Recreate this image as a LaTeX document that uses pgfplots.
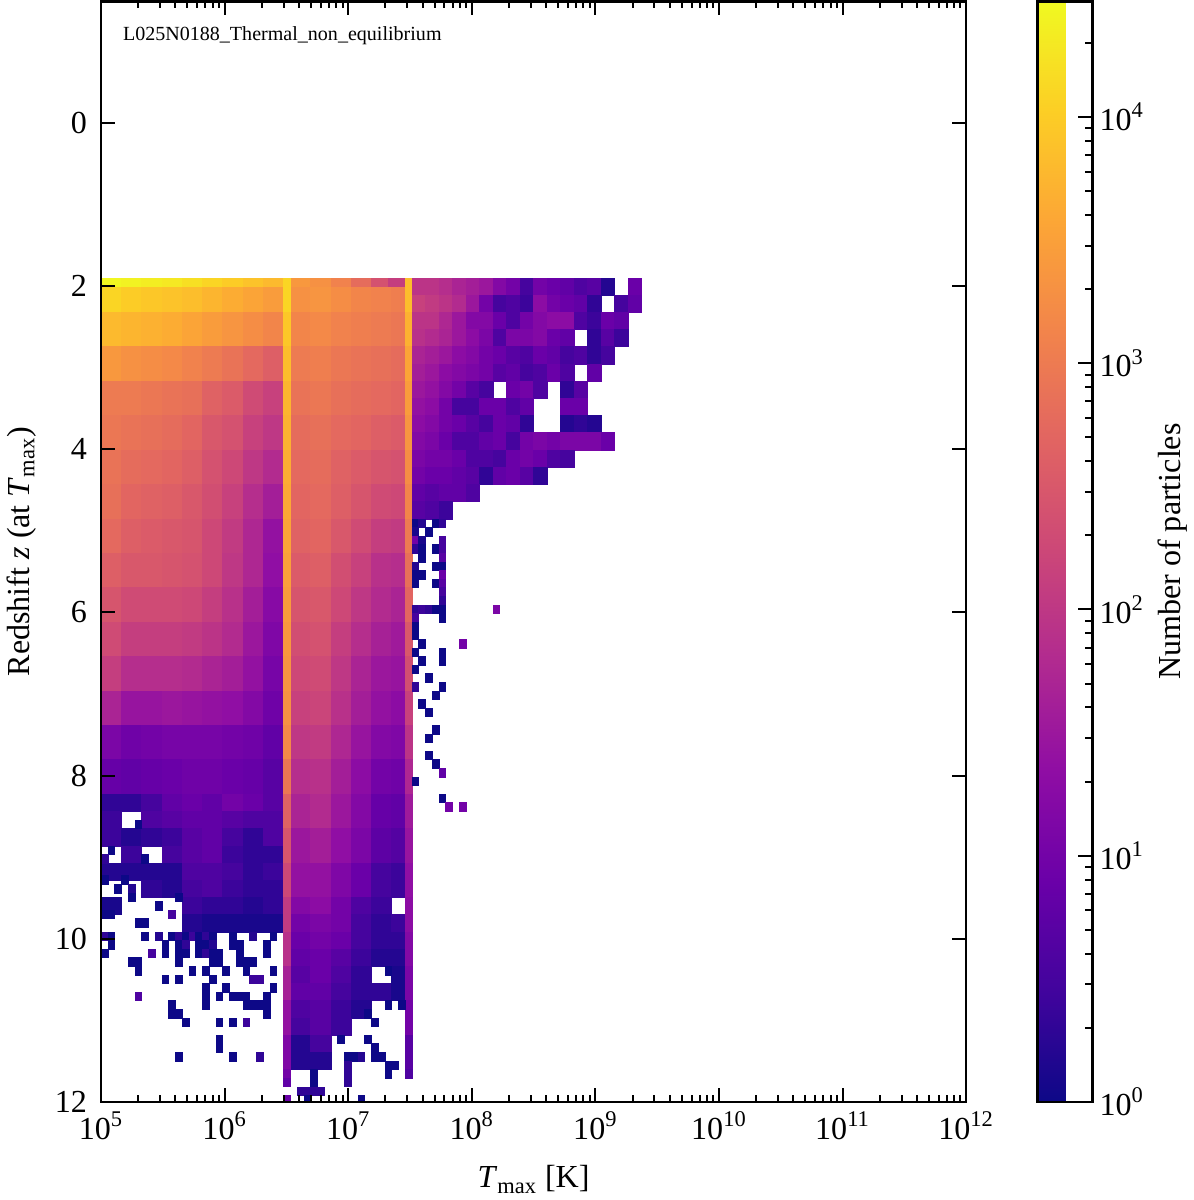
\documentclass[border=0pt]{standalone}
\usepackage{fontspec}
\setmainfont{Liberation Serif}
\usepackage{pgfplots}
\usepackage{pgfplotstable}
\pgfplotsset{compat=1.18}
\pgfplotsset{colormap={plasma}{rgb255=(13,8,135) rgb255=(65,4,157) rgb255=(106,0,168) rgb255=(143,13,164) rgb255=(177,42,144) rgb255=(204,71,120) rgb255=(225,100,98) rgb255=(242,132,75) rgb255=(252,166,54) rgb255=(252,206,37) rgb255=(240,249,33)}}
% cell marks: width x height of histogram bins (1 native bin = 3.371pt x 4.292pt)
\pgfdeclareplotmark{cA}{\pgfpathrectangle{\pgfqpoint{-5.057pt}{-8.585pt}}{\pgfqpoint{10.113pt}{17.17pt}}\pgfusepathqfillstroke}
\pgfdeclareplotmark{cAh}{\pgfpathrectangle{\pgfqpoint{-5.057pt}{-4.292pt}}{\pgfqpoint{10.113pt}{8.585pt}}\pgfusepathqfillstroke}
\pgfdeclareplotmark{cAs}{\pgfpathrectangle{\pgfqpoint{-5.057pt}{-2.146pt}}{\pgfqpoint{10.113pt}{4.292pt}}\pgfusepathqfillstroke}
\pgfdeclareplotmark{cB}{\pgfpathrectangle{\pgfqpoint{-3.371pt}{-8.585pt}}{\pgfqpoint{6.742pt}{17.17pt}}\pgfusepathqfillstroke}
\pgfdeclareplotmark{cN}{\pgfpathrectangle{\pgfqpoint{-1.686pt}{-8.585pt}}{\pgfqpoint{3.371pt}{17.17pt}}\pgfusepathqfillstroke}
\pgfdeclareplotmark{cC}{\pgfpathrectangle{\pgfqpoint{-3.371pt}{-4.292pt}}{\pgfqpoint{6.742pt}{8.585pt}}\pgfusepathqfillstroke}
\pgfdeclareplotmark{cS}{\pgfpathrectangle{\pgfqpoint{-1.686pt}{-2.146pt}}{\pgfqpoint{3.371pt}{4.292pt}}\pgfusepathqfillstroke}
\pgfplotsset{hist/.style={only marks, scatter, mark=#1, point meta=explicit,
  scatter/use mapped color={draw=mapped color, fill=mapped color}, mark options={line width=0.3pt}}}

% log10(number of particles); region T < 10^6.48 (3 bins wide x 4 bins high)
\pgfplotstableread{
z a0 a1 a2 a3 a4 a5 a6 a7 a8
2.111 4.1 4.0 3.95 3.9 3.85 3.75 3.65 3.55 3.45
2.533 3.8 3.75 3.7 3.65 3.55 3.45 3.35 3.25 3.15
2.955 3.4 3.3 3.25 3.2 3.1 3.0 2.9 2.75 2.6
3.377 3.0 3.0 2.95 2.9 2.85 2.65 2.55 2.3 2.15
3.799 2.95 2.9 2.85 2.8 2.7 2.5 2.4 2.15 2.0
4.220 2.9 2.8 2.75 2.7 2.6 2.4 2.25 2.0 1.8
4.642 2.85 2.7 2.65 2.6 2.5 2.35 2.15 1.85 1.6
5.064 2.75 2.6 2.55 2.5 2.45 2.25 2.05 1.75 1.4
5.486 2.6 2.5 2.5 2.45 2.4 2.25 2.0 1.75 1.35
5.908 2.45 2.3 2.3 2.3 2.25 2.1 1.9 1.6 1.25
6.330 2.3 2.1 2.1 2.1 2.05 1.95 1.8 1.5 1.15
6.752 2.1 1.85 1.85 1.85 1.8 1.7 1.6 1.4 1.05
7.174 1.7 1.45 1.45 1.5 1.45 1.4 1.35 1.2 0.95
7.596 1.1 0.95 1.0 1.05 1.05 1.05 1.0 0.95 0.8
8.017 0.85 0.8 0.85 0.9 0.95 0.95 0.9 0.85 0.7
}\tA
% first (lowest-z) row of bins, 3 bins wide x 1 bin high
\pgfplotstableread{
x y c
5.0820 1.953 4.45
5.2461 1.953 4.4
5.4102 1.953 4.35
5.5742 1.953 4.3
5.7383 1.953 4.2
5.9023 1.953 4.1
6.0664 1.953 4.0
6.2305 1.953 3.9
6.3945 1.953 3.8
6.6133 1.953 3.4
6.7773 1.953 3.3
6.9414 1.953 3.1
7.1055 1.953 2.8
7.2695 1.953 2.4
7.4063 1.953 2.1
}\tT
% same region, 3 bins wide x 2 bins high
\pgfplotstableread{
x y c
5.0820 8.334 0.3
5.2461 8.334 0.3
5.4102 8.334 0.5
5.5742 8.334 0.8
5.7383 8.334 0.9
5.9023 8.334 0.8
6.0664 8.334 1.0
6.2305 8.334 0.9
6.3945 8.334 0.7
5.0820 8.545 0.4
5.4102 8.545 0.6
5.5742 8.545 0.7
5.7383 8.545 0.8
5.9023 8.545 0.8
6.0664 8.545 0.7
6.2305 8.545 0.6
6.3945 8.545 0.6
5.0820 8.756 0.4
5.2461 8.756 0.2
5.4102 8.756 0.3
5.5742 8.756 0.4
5.7383 8.756 0.7
5.9023 8.756 0.8
6.0664 8.756 0.5
6.2305 8.756 0.3
6.3945 8.756 0.6
5.2461 8.967 0.4
5.5742 8.967 0.5
5.7383 8.967 0.7
5.9023 8.967 0.8
6.0664 8.967 0.4
6.2305 8.967 0.3
6.3945 8.967 0.3
5.0820 9.177 0.2
5.2461 9.177 0.2
5.4102 9.177 0.2
5.5742 9.177 0.2
5.7383 9.177 0.6
5.9023 9.177 0.6
6.0664 9.177 0.5
6.2305 9.177 0.3
6.3945 9.177 0.4
5.4102 9.388 0.3
5.5742 9.388 0.2
5.7383 9.388 0.5
5.9023 9.388 0.6
6.0664 9.388 0.4
6.2305 9.388 0.3
6.3945 9.388 0.3
5.0820 9.599 0.1
5.7383 9.599 0.4
5.9023 9.599 0.3
6.0664 9.599 0.3
6.2305 9.599 0.2
6.3945 9.599 0.3
5.7383 9.810 0.2
5.9023 9.810 0.1
6.0664 9.810 0.1
6.2305 9.810 0.1
6.3945 9.810 0.1
6.6133 9.599 1.2
6.7773 9.599 1.3
6.9414 9.599 1.0
7.1055 9.599 0.6
7.2695 9.599 0.4
6.6133 9.810 1.0
6.7773 9.810 1.1
6.9414 9.810 1.0
7.1055 9.810 0.5
7.2695 9.810 0.3
6.6133 10.021 0.9
6.7773 10.021 1.0
6.9414 10.021 0.9
7.1055 10.021 0.5
7.2695 10.021 0.3
6.6133 10.232 0.8
6.7773 10.232 0.9
6.9414 10.232 0.7
7.1055 10.232 0.4
7.2695 10.232 0.2
6.6133 10.443 0.7
6.7773 10.443 0.9
6.9414 10.443 0.6
7.1055 10.443 0.3
6.6133 10.654 0.8
6.7773 10.654 0.8
6.9414 10.654 0.5
7.1055 10.654 0.3
7.2695 10.654 0.3
6.6133 10.865 0.6
6.7773 10.865 0.7
6.9414 10.865 0.4
7.1055 10.865 0.2
6.6133 11.075 0.5
6.7773 11.075 0.7
6.9414 11.075 0.4
6.6133 11.286 0.2
6.7773 11.286 0.5
6.6133 11.497 0.2
6.7773 11.497 0.2
}\tAh
\pgfplotstableread{
x y c
7.4063 9.810 0.4
7.4063 10.021 0.3
7.4063 10.232 0.2
7.4063 10.443 0.1
7.4063 10.654 0.1
}\tBh
% region 10^6.53 < T < 10^7.46
\pgfplotstableread{
z b0 b1 b2 b3 b4 b5
2.111 3.3 3.35 3.25 3.15 3.1 3.05
2.533 3.15 3.2 3.1 3.05 3.0 2.95
2.955 3.0 3.05 2.95 2.9 2.85 2.8
3.377 2.9 2.95 2.85 2.8 2.75 2.7
3.799 2.8 2.85 2.75 2.7 2.6 2.55
4.220 2.75 2.8 2.65 2.55 2.45 2.4
4.642 2.7 2.75 2.6 2.45 2.3 2.25
5.064 2.65 2.7 2.5 2.3 2.1 2.05
5.486 2.55 2.6 2.35 2.15 1.9 1.85
5.908 2.45 2.5 2.25 2.0 1.8 1.7
6.330 2.35 2.4 2.1 1.85 1.65 1.55
6.752 2.25 2.3 2.0 1.7 1.5 1.45
7.174 2.15 2.2 1.9 1.6 1.4 1.3
7.596 2.0 2.05 1.75 1.45 1.2 1.15
8.017 1.85 1.9 1.6 1.3 1.0 0.95
8.439 1.7 1.8 1.5 1.2 0.85 0.8
8.861 1.5 1.6 1.35 1.1 0.75 0.65
9.283 1.4 1.4 1.15 0.9 0.5 0.4
}\tB
% the two single-bin columns at T = 10^6.5 and 10^7.5
\pgfplotstableread{
z n1 n2
2.111 4.1 3.85
2.533 3.95 3.7
2.955 3.85 3.55
3.377 3.75 3.45
3.799 3.7 3.35
4.220 3.65 3.25
4.642 3.6 3.15
5.064 3.55 3.0
5.486 3.5 2.85
5.908 3.45 2.7
6.330 3.4 2.5
6.752 3.35 2.35
7.174 3.3 2.15
7.596 3.2 1.95
8.017 2.95 1.75
8.439 2.65 1.55
8.861 2.45 1.45
9.283 2.25 1.35
9.705 2.05 1.3
10.127 1.9 1.2
10.548 1.65 1.1
10.970 1.4 1.0
11.392 1.15 0.7
}\tN
% region T > 10^7.52 (2 x 2 bins)
\pgfplotstableread{
x y c
7.5703 2.005 1.95
7.6797 2.005 1.95
7.7891 2.005 1.85
7.8984 2.005 1.7
8.0078 2.005 1.6
8.1172 2.005 1.5
8.2266 2.005 1.2
8.3359 2.005 1.0
8.4453 2.005 0.5
8.5547 2.005 1.0
8.6641 2.005 0.9
8.7734 2.005 0.8
8.8828 2.005 0.6
8.9922 2.005 0.7
9.1016 2.005 0.2
9.3203 2.005 0.9
7.5703 2.216 2.15
7.6797 2.216 2.05
7.7891 2.216 1.95
7.8984 2.216 1.8
8.0078 2.216 1.5
8.1172 2.216 1.0
8.2266 2.216 0.5
8.3359 2.216 0.6
8.4453 2.216 0.4
8.5547 2.216 1.3
8.6641 2.216 1.0
8.7734 2.216 0.9
8.8828 2.216 0.8
8.9922 2.216 0.3
9.2109 2.216 0.5
9.3203 2.216 0.8
7.5703 2.427 1.95
7.6797 2.427 1.95
7.7891 2.427 1.75
7.8984 2.427 1.5
8.0078 2.427 1.2
8.1172 2.427 1.2
8.2266 2.427 0.9
8.3359 2.427 0.6
8.4453 2.427 1.0
8.5547 2.427 1.2
8.6641 2.427 1.3
8.7734 2.427 1.3
8.8828 2.427 0.6
8.9922 2.427 0.4
9.1016 2.427 0.9
9.2109 2.427 0.8
7.5703 2.638 1.9
7.6797 2.638 1.8
7.7891 2.638 1.7
7.8984 2.638 1.5
8.0078 2.638 1.3
8.1172 2.638 1.1
8.2266 2.638 0.6
8.3359 2.638 1.1
8.4453 2.638 1.1
8.5547 2.638 1.2
8.6641 2.638 0.9
8.7734 2.638 0.8
8.9922 2.638 0.3
9.1016 2.638 0.7
9.2109 2.638 0.4
7.5703 2.849 1.7
7.6797 2.849 1.6
7.7891 2.849 1.5
7.8984 2.849 1.3
8.0078 2.849 1.2
8.1172 2.849 1.0
8.2266 2.849 0.9
8.3359 2.849 0.7
8.4453 2.849 0.6
8.5547 2.849 0.9
8.6641 2.849 0.8
8.7734 2.849 0.5
8.8828 2.849 0.6
8.9922 2.849 0.3
9.1016 2.849 0.5
7.5703 3.060 1.6
7.6797 3.060 1.5
7.7891 3.060 1.3
7.8984 3.060 1.2
8.0078 3.060 1.1
8.1172 3.060 1.0
8.2266 3.060 0.7
8.3359 3.060 0.8
8.4453 3.060 0.5
8.5547 3.060 0.6
8.6641 3.060 0.9
8.7734 3.060 0.6
8.9922 3.060 0.8
7.5703 3.271 1.5
7.6797 3.271 1.4
7.7891 3.271 1.2
7.8984 3.271 1.0
8.0078 3.271 0.7
8.1172 3.271 0.5
8.3359 3.271 0.9
8.4453 3.271 1.0
8.5547 3.271 0.6
8.7734 3.271 0.3
8.8828 3.271 0.7
7.5703 3.482 1.4
7.6797 3.482 1.3
7.7891 3.482 1.0
7.8984 3.482 0.5
8.0078 3.482 0.5
8.1172 3.482 0.9
8.2266 3.482 0.9
8.3359 3.482 0.6
8.4453 3.482 0.8
8.7734 3.482 0.9
8.8828 3.482 0.9
7.5703 3.693 1.3
7.6797 3.693 1.2
7.7891 3.693 1.0
7.8984 3.693 0.9
8.0078 3.693 0.7
8.1172 3.693 0.5
8.2266 3.693 0.9
8.3359 3.693 0.8
8.4453 3.693 0.3
8.7734 3.693 0.2
8.8828 3.693 0.3
8.9922 3.693 0.2
7.5703 3.904 1.2
7.6797 3.904 1.1
7.7891 3.904 0.9
7.8984 3.904 0.6
8.0078 3.904 0.6
8.1172 3.904 0.8
8.2266 3.904 0.9
8.3359 3.904 0.5
8.4453 3.904 1.0
8.5547 3.904 1.1
8.6641 3.904 1.0
8.7734 3.904 1.1
8.8828 3.904 1.1
8.9922 3.904 1.1
9.1016 3.904 0.9
7.5703 4.115 1.1
7.6797 4.115 1.0
7.7891 4.115 1.0
7.8984 4.115 0.9
8.0078 4.115 0.6
8.1172 4.115 0.6
8.2266 4.115 0.5
8.3359 4.115 0.9
8.4453 4.115 1.0
8.5547 4.115 0.9
8.6641 4.115 0.6
8.7734 4.115 0.5
7.5703 4.326 1.0
7.6797 4.326 0.9
7.7891 4.326 0.9
7.8984 4.326 0.8
8.0078 4.326 0.7
8.1172 4.326 0.3
8.2266 4.326 0.8
8.3359 4.326 0.9
8.4453 4.326 0.7
8.5547 4.326 0.3
7.5703 4.537 0.8
7.6797 4.537 0.7
7.7891 4.537 0.8
7.8984 4.537 0.8
8.0078 4.537 0.6
7.5703 4.748 0.7
7.6797 4.748 0.6
7.7891 4.748 0.4
}\tC
% single bins in the sparse parts
\pgfplotstableread{
x y c
7.5430 4.906 0
7.5977 4.906 0.2
7.7070 4.906 0
7.7617 4.906 0.3
7.5430 5.011 0.1
7.6523 5.011 0
7.5430 5.117 1.0
7.5977 5.117 0.1
7.7617 5.117 0.5
7.5430 5.222 0.3
7.5977 5.222 0
7.7070 5.222 0
7.7617 5.222 0.5
7.5977 5.328 0
7.7617 5.328 0.7
7.5430 5.433 0.2
7.7070 5.433 0
7.7617 5.433 0
7.5430 5.539 0
7.5977 5.539 0
7.7617 5.539 0.9
7.5430 5.644 0
7.7070 5.644 0
7.7617 5.644 0.7
7.7617 5.750 0.5
7.7617 5.855 0.3
7.5430 5.961 0.3
7.5977 5.961 0.4
7.6523 5.961 0.3
7.7070 5.961 0
7.7617 5.961 0
8.1992 5.961 1.1
7.5430 6.066 0.5
7.7617 6.066 0
7.5430 6.172 0
7.5430 6.277 0
7.5977 6.382 0
7.9258 6.382 1.0
7.5430 6.488 0
7.7617 6.488 0
7.5977 6.593 0
7.7617 6.593 0
7.5430 6.699 0
7.6523 6.804 0
7.5430 6.910 0.3
7.7617 6.910 0
7.7070 7.015 0
7.5977 7.120 0
7.6523 7.226 0
7.7070 7.437 0
7.6523 7.542 0
7.6523 7.753 0
7.7070 7.858 0
7.7617 7.964 0.8
7.5430 8.069 0
7.7617 8.280 0
7.8164 8.385 1.0
7.9258 8.385 1.0
5.3008 8.597 0
5.0820 8.914 0
5.0273 9.019 0.3
5.3555 9.019 0
5.0273 9.280 0
5.1367 9.386 0
5.1914 9.280 0
5.2461 9.386 0.2
5.2461 9.491 0
5.4648 9.596 0
5.6289 9.491 0
5.0273 9.702 0
5.0820 9.702 0
5.3008 9.807 0
5.3555 9.807 0
5.5742 9.702 0.5
5.0273 9.968 0.3
5.0820 9.968 0
5.3555 9.968 0
5.4648 9.968 0.2
5.5742 9.968 0
5.6289 9.968 0.3
5.6836 9.968 0
5.7383 9.968 0.4
5.7930 9.968 0
5.8477 9.968 0.3
5.9023 9.968 0
6.0664 9.968 0
6.2305 9.968 0.2
6.3945 9.968 0
5.0820 10.074 0
5.5195 10.074 0
5.6289 10.074 0
5.6836 10.074 0.3
5.7930 10.074 0
5.8477 10.074 0
5.9023 10.074 0.2
6.0664 10.074 0
6.1211 10.074 0
6.3398 10.074 0
5.0273 10.179 0
5.4102 10.179 0.5
5.5195 10.179 0
5.6289 10.179 0
5.6836 10.179 0
5.7930 10.179 0
5.8477 10.179 0.3
5.9023 10.179 0
5.9570 10.179 0
6.1211 10.179 0
6.3398 10.179 0
5.2461 10.285 0
5.3008 10.285 0
5.6289 10.285 0
5.9023 10.285 0
5.9570 10.285 0
6.1211 10.285 0
6.1758 10.285 0
6.2305 10.285 0
5.3008 10.390 0
5.7383 10.390 0
5.8477 10.390 0
6.0117 10.390 0
6.1758 10.390 0
6.3945 10.390 0
5.5195 10.496 0
5.6289 10.496 0
5.9023 10.496 0
6.2305 10.496 0.4
6.2852 10.496 0.4
5.8477 10.601 0
6.0117 10.601 0
6.3945 10.601 0
5.3008 10.706 0.6
5.8477 10.706 0
5.9570 10.706 0
6.0664 10.706 0
6.1211 10.706 0
6.1758 10.706 0
6.3398 10.706 0
5.5742 10.812 0
5.8477 10.812 0
6.1758 10.812 0
6.2305 10.812 0
6.2852 10.812 0
6.3398 10.812 0
5.5742 10.917 0
5.6289 10.917 0
6.3398 10.917 0
5.6836 11.023 0
5.9570 11.023 0
6.0664 11.023 0
6.1758 11.023 0.4
5.9570 11.234 0
5.9570 11.339 0
5.6289 11.445 0
6.0664 11.445 0
6.2852 11.445 0.3
7.3242 10.390 0
7.3242 10.812 0
7.4336 10.812 0
7.1602 10.917 0
7.2148 11.023 0
6.9414 11.234 0
7.1602 11.234 0
7.2148 11.339 0
6.9961 11.445 0
7.0508 11.445 0
7.1055 11.445 0.2
7.2148 11.445 0
7.2695 11.445 0
6.9961 11.550 0.3
7.3242 11.550 0
7.3789 11.550 0
6.7227 11.656 0
6.9961 11.656 0.3
7.3242 11.656 0
6.7227 11.761 0
6.9961 11.761 0.3
6.6133 11.867 0.3
6.6680 11.867 0.3
6.7227 11.867 0.3
6.7773 11.867 0.3
6.6680 11.972 0
7.1055 11.972 0
6.5039 11.656 1.0
6.5039 11.761 0.8
6.5039 11.972 0.9
7.4883 11.656 0.6
}\tS

\begin{document}
\begin{tikzpicture}
\begin{axis}[
  scale only axis, width=431.5pt, height=549pt,
  xmin=5, xmax=12, ymin=-1.49, ymax=12, y dir=reverse,
  axis on top, clip marker paths=true,
  xtick={5,6,7,8,9,10,11,12},
  xticklabels={10\textsuperscript{5},10\textsuperscript{6},10\textsuperscript{7},10\textsuperscript{8},10\textsuperscript{9},10\textsuperscript{10},10\textsuperscript{11},10\textsuperscript{12}},
  minor xtick={5.301,5.477,5.602,5.699,5.778,5.845,5.903,5.954,6.301,6.477,6.602,6.699,6.778,6.845,6.903,6.954,7.301,7.477,7.602,7.699,7.778,7.845,7.903,7.954,8.301,8.477,8.602,8.699,8.778,8.845,8.903,8.954,9.301,9.477,9.602,9.699,9.778,9.845,9.903,9.954,10.301,10.477,10.602,10.699,10.778,10.845,10.903,10.954,11.301,11.477,11.602,11.699,11.778,11.845,11.903,11.954},
  ytick={0,2,4,6,8,10,12}, yticklabels={0,2,4,6,8,10,12},
  tick align=inside, major tick length=7pt, minor tick length=3.5pt,
  tick style={line width=1pt, black},
  axis line style={line width=1.3pt},
  tick label style={font=\fontsize{16}{16}\selectfont},
  xticklabel style={yshift=-1.5pt},
  yticklabel style={xshift=-3.5pt},
  label style={font=\fontsize{16}{19}\selectfont},
  xlabel={\textit{T}\textsubscript{max} [K]},
  ylabel={Redshift \textit{z} (at \textit{T}\textsubscript{max})},
  xlabel shift=6pt, ylabel shift=2.5pt,
  colormap name=plasma, point meta min=0, point meta max=4.47,
  colorbar,
  colorbar style={
    at={(parent axis.north east)}, anchor=north west, xshift=27pt,
    scale only axis, width=27.5pt, height=549pt,
    ytick={0,1,2,3,4},
    yticklabels={10\textsuperscript{0},10\textsuperscript{1},10\textsuperscript{2},10\textsuperscript{3},10\textsuperscript{4}},
    minor ytick={0.301,0.477,0.602,0.699,0.778,0.845,0.903,0.954,1.301,1.477,1.602,1.699,1.778,1.845,1.903,1.954,2.301,2.477,2.602,2.699,2.778,2.845,2.903,2.954,3.301,3.477,3.602,3.699,3.778,3.845,3.903,3.954,4.301},
    ytick pos=right, yticklabel pos=right, ylabel near ticks,
    tick align=inside, major tick length=7pt, minor tick length=3.8pt,
    tick style={line width=1pt, black},
    axis line style={line width=1.3pt},
    yticklabel style={font=\fontsize{16}{16}\selectfont},
    ylabel={Number of particles},
    ylabel style={font=\fontsize{16}{19}\selectfont},
  },
]
\addplot[hist=cA] table[x expr=5.0820, y=z, meta=a0] {\tA};
\addplot[hist=cA] table[x expr=5.2461, y=z, meta=a1] {\tA};
\addplot[hist=cA] table[x expr=5.4102, y=z, meta=a2] {\tA};
\addplot[hist=cA] table[x expr=5.5742, y=z, meta=a3] {\tA};
\addplot[hist=cA] table[x expr=5.7383, y=z, meta=a4] {\tA};
\addplot[hist=cA] table[x expr=5.9023, y=z, meta=a5] {\tA};
\addplot[hist=cA] table[x expr=6.0664, y=z, meta=a6] {\tA};
\addplot[hist=cA] table[x expr=6.2305, y=z, meta=a7] {\tA};
\addplot[hist=cA] table[x expr=6.3945, y=z, meta=a8] {\tA};
\addplot[hist=cA] table[x expr=6.6133, y=z, meta=b0] {\tB};
\addplot[hist=cA] table[x expr=6.7773, y=z, meta=b1] {\tB};
\addplot[hist=cA] table[x expr=6.9414, y=z, meta=b2] {\tB};
\addplot[hist=cA] table[x expr=7.1055, y=z, meta=b3] {\tB};
\addplot[hist=cA] table[x expr=7.2695, y=z, meta=b4] {\tB};
\addplot[hist=cB] table[x expr=7.4063, y=z, meta=b5] {\tB};
\addplot[hist=cAs] table[x=x, y=y, meta=c] {\tT};
\addplot[hist=cAh] table[x=x, y=y, meta=c] {\tAh};
\addplot[hist=cC] table[x=x, y=y, meta=c] {\tBh};
\addplot[hist=cN] table[x expr=6.5039, y=z, meta=n1] {\tN};
\addplot[hist=cN] table[x expr=7.4883, y=z, meta=n2] {\tN};
\addplot[hist=cC] table[x=x, y=y, meta=c] {\tC};
\addplot[hist=cS] table[x=x, y=y, meta=c] {\tS};
\node[anchor=north west, inner sep=0pt, font=\fontsize{10}{12}\selectfont] at (axis description cs:0.025,0.977) {L025N0188\_Thermal\_non\_equilibrium};
\end{axis}
\end{tikzpicture}
\end{document}
